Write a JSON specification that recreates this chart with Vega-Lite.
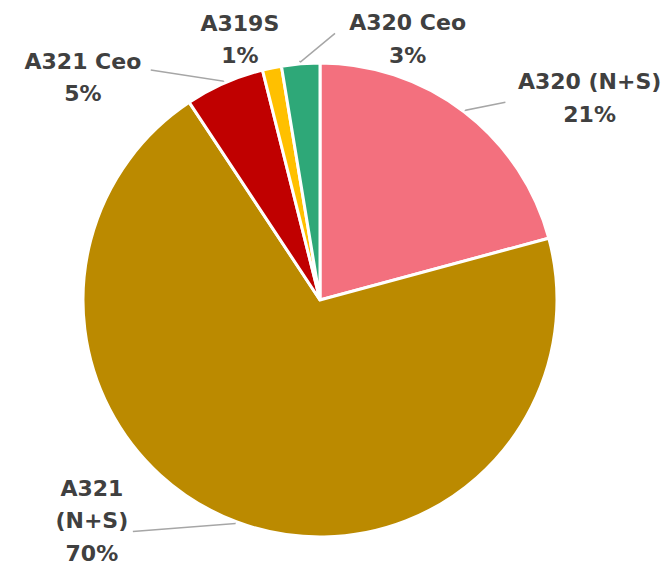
{
  "$schema": "https://vega.github.io/schema/vega-lite/v6.json",
  "width": 640,
  "height": 536,
  "autosize": {"type": "none"},
  "padding": {"left": 0, "top": 32, "right": 29, "bottom": 0},
  "background": "white",
  "view": {"stroke": null},
  "data": {
    "values": [
      {"model": "A320 (N+S)", "share": 20.8, "rank": 1, "label": "A320 (N+S)\n21%"},
      {"model": "A321 (N+S)", "share": 69.9, "rank": 2, "label": "A321\n(N+S)\n70%"},
      {"model": "A321 Ceo", "share": 5.4, "rank": 3, "label": "A321 Ceo\n5%"},
      {"model": "A319S", "share": 1.3, "rank": 4, "label": "A319S\n1%"},
      {"model": "A320 Ceo", "share": 2.6, "rank": 5, "label": "A320 Ceo\n3%"}
    ]
  },
  "encoding": {
    "theta": {"field": "share", "type": "quantitative", "stack": true, "scale": {"domain": [0, 100]}},
    "order": {"field": "rank", "type": "quantitative", "sort": "ascending"},
    "detail": {"field": "model", "type": "nominal"}
  },
  "resolve": {"scale": {"theta": "independent"}},
  "layer": [
    {
      "mark": {"type": "arc", "radius": 237, "stroke": "white", "strokeWidth": 3},
      "encoding": {
        "color": {
          "field": "model",
          "type": "nominal",
          "scale": {
            "domain": ["A320 (N+S)", "A321 (N+S)", "A321 Ceo", "A319S", "A320 Ceo"],
            "range": ["#F3707E", "#BB8A00", "#C00000", "#FFC000", "#2EA878"]
          },
          "legend": null
        }
      }
    },
    {
      "mark": {"type": "arc", "radius": 271.65, "radius2": 239, "padAngle": 1.44404, "fillOpacity": 0, "stroke": "#A6A6A6", "strokeWidth": 1.5, "strokeDash": [0, 96.21, 41, 5000]},
      "encoding": {
        "theta": {"field": "share", "type": "quantitative", "stack": true, "scale": {"domain": [0, 100], "range": [-0.52385, 10.79635]}},
        "strokeOpacity": {"condition": {"test": "datum.model === 'A320 (N+S)'", "value": 1}, "value": 0}
      }
    },
    {
      "mark": {"type": "arc", "radius": 298.2, "radius2": 239, "padAngle": 1.35206, "fillOpacity": 0, "stroke": "#A6A6A6", "strokeWidth": 1.5, "strokeDash": [0, 295.13, 103, 5000]},
      "encoding": {
        "theta": {"field": "share", "type": "quantitative", "stack": true, "scale": {"domain": [0, 100], "range": [1.50686, 5.08716]}},
        "strokeOpacity": {"condition": {"test": "datum.model === 'A321 (N+S)'", "value": 1}, "value": 0}
      }
    },
    {
      "mark": {"type": "arc", "radius": 286, "radius2": 239, "padAngle": 1.39388, "fillOpacity": 0, "stroke": "#A6A6A6", "strokeWidth": 1.5, "strokeDash": [0, 126.87, 74, 5000]},
      "encoding": {
        "theta": {"field": "share", "type": "quantitative", "stack": true, "scale": {"domain": [0, 100], "range": [-36.0508, 8.8307]}},
        "strokeOpacity": {"condition": {"test": "datum.model === 'A321 Ceo'", "value": 1}, "value": 0}
      }
    },
    {
      "mark": {"type": "arc", "radius": 268.48, "radius2": 239, "padAngle": 1.45548, "fillOpacity": 0, "stroke": "#A6A6A6", "strokeWidth": 1.5, "strokeDash": [0, 122.23, 46, 5000]},
      "encoding": {
        "theta": {"field": "share", "type": "quantitative", "stack": true, "scale": {"domain": [0, 100], "range": [-88.087, 7.444]}},
        "strokeOpacity": {"condition": {"test": "datum.model === 'A320 Ceo'", "value": 1}, "value": 0}
      }
    },
    {
      "mark": {"type": "text", "radius": 256, "dx": 114, "dy": -15, "align": "center", "baseline": "middle", "lineBreak": "\n", "lineHeight": 33, "font": "DejaVu Sans", "fontWeight": "bold", "fontSize": 22, "color": "#404040"},
      "encoding": {"text": {"condition": {"test": "datum.model === 'A320 (N+S)'", "field": "label", "type": "nominal"}, "value": ""}}
    },
    {
      "mark": {"type": "text", "radius": 262, "dx": 109, "dy": -15.5, "align": "center", "baseline": "middle", "lineBreak": "\n", "lineHeight": 32.5, "font": "DejaVu Sans", "fontWeight": "bold", "fontSize": 22, "color": "#404040"},
      "encoding": {"text": {"condition": {"test": "datum.model === 'A320 Ceo'", "field": "label", "type": "nominal"}, "value": ""}}
    },
    {
      "mark": {"type": "text", "radius": 267, "dx": -26, "dy": -14.6, "align": "center", "baseline": "middle", "lineBreak": "\n", "lineHeight": 32, "font": "DejaVu Sans", "fontWeight": "bold", "fontSize": 22, "color": "#404040"},
      "encoding": {"text": {"condition": {"test": "datum.model === 'A319S'", "field": "label", "type": "nominal"}, "value": ""}}
    },
    {
      "mark": {"type": "text", "radius": 241, "dx": -140, "dy": -17.7, "align": "center", "baseline": "middle", "lineBreak": "\n", "lineHeight": 32.5, "font": "DejaVu Sans", "fontWeight": "bold", "fontSize": 22, "color": "#404040"},
      "encoding": {"text": {"condition": {"test": "datum.model === 'A321 Ceo'", "field": "label", "type": "nominal"}, "value": ""}}
    },
    {
      "mark": {"type": "text", "radius": 238, "dx": -144, "dy": -34, "align": "center", "baseline": "middle", "lineBreak": "\n", "lineHeight": 32.7, "font": "DejaVu Sans", "fontWeight": "bold", "fontSize": 22, "color": "#404040"},
      "encoding": {"text": {"condition": {"test": "datum.model === 'A321 (N+S)'", "field": "label", "type": "nominal"}, "value": ""}}
    }
  ]
}
